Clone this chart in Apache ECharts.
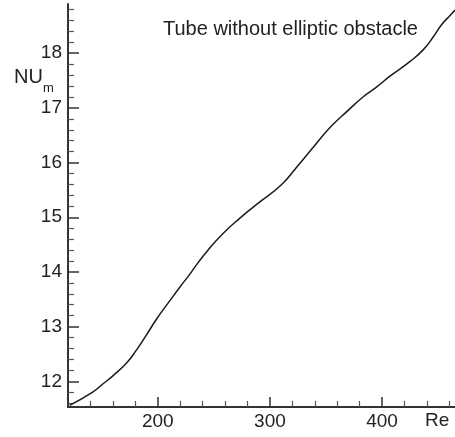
<!DOCTYPE html>
<html>
<head>
<meta charset="utf-8">
<script src="https://cdn.jsdelivr.net/npm/echarts@6/dist/echarts.min.js"></script>
<style>
  html, body { margin: 0; padding: 0; background: #fff; }
  #chart { width: 455px; height: 437px; }
</style>
</head>
<body>
<div id="chart"></div>
<script>
// Data
const reValues = [121.5, 142, 151, 160, 172, 181, 190, 199, 211, 220, 229, 236, 244, 258, 273, 291, 310, 324, 339, 354, 369, 383, 395, 407, 425, 437, 446, 453, 461, 465];
const nuValues = [11.56, 11.80, 11.95, 12.10, 12.33, 12.57, 12.85, 13.14, 13.48, 13.73, 13.97, 14.17, 14.38, 14.70, 14.98, 15.28, 15.59, 15.92, 16.29, 16.65, 16.94, 17.20, 17.38, 17.58, 17.85, 18.07, 18.31, 18.52, 18.70, 18.79];

const xMajorTicks = [200, 300, 400];
const xMinorTicks = [140, 160, 180, 220, 240, 260, 280, 320, 340, 360, 380, 420, 440, 460];
const yMajorTicks = [12, 13, 14, 15, 16, 17, 18];
const yMinorTicks = [11.6, 11.8, 12.2, 12.4, 12.6, 12.8, 13.2, 13.4, 13.6, 13.8, 14.2, 14.4, 14.6, 14.8, 15.2, 15.4, 15.6, 15.8, 16.2, 16.4, 16.6, 16.8, 17.2, 17.4, 17.6, 17.8, 18.2, 18.4, 18.6, 18.8];

const xRange = [120, 465];
const yRange = [11.53, 18.9];

const seriesData = reValues.map((r, i) => [r, nuValues[i]]);

const FONT = 'Liberation Sans, Arial, sans-serif';
const AX = '#333';

const chart = echarts.init(document.getElementById('chart'), null, { renderer: 'canvas' });
chart.setOption({
  animation: false,
  backgroundColor: '#fff',
  grid: { left: 68, right: 0, top: 4, bottom: 30, containLabel: false },
  xAxis: [
    {
      type: 'value', min: xRange[0], max: xRange[1], position: 'bottom',
      axisLine: { show: true, lineStyle: { color: AX, width: 2 } },
      axisTick: { show: true, inside: true, length: 10, lineStyle: { color: AX, width: 1.5 }, customValues: xMajorTicks },
      axisLabel: { show: true, margin: 5, fontSize: 19, color: '#222', fontFamily: FONT, customValues: xMajorTicks },
      splitLine: { show: false }
    },
    {
      type: 'value', min: xRange[0], max: xRange[1], position: 'bottom',
      axisLine: { show: false },
      axisTick: { show: true, inside: true, length: 6, lineStyle: { color: '#555', width: 1.2 }, customValues: xMinorTicks },
      axisLabel: { show: false },
      splitLine: { show: false }
    }
  ],
  yAxis: [
    {
      type: 'value', min: yRange[0], max: yRange[1], position: 'left',
      axisLine: { show: true, lineStyle: { color: AX, width: 2 } },
      axisTick: { show: true, inside: true, length: 11, lineStyle: { color: AX, width: 1.5 }, customValues: yMajorTicks },
      axisLabel: { show: true, margin: 6, fontSize: 19, color: '#222', fontFamily: FONT, customValues: yMajorTicks },
      splitLine: { show: false }
    },
    {
      type: 'value', min: yRange[0], max: yRange[1], position: 'left',
      axisLine: { show: false },
      axisTick: { show: true, inside: true, length: 6, lineStyle: { color: '#555', width: 1.2 }, customValues: yMinorTicks },
      axisLabel: { show: false },
      splitLine: { show: false }
    }
  ],
  series: [
    {
      type: 'line', xAxisIndex: 0, yAxisIndex: 0,
      data: seriesData, showSymbol: false, smooth: 0.5,
      lineStyle: { color: '#1a1a1a', width: 1.5 }
    }
  ],
  graphic: [
    { type: 'text', left: 163, top: 19, style: { text: 'Tube without elliptic obstacle', fontSize: 20, fill: '#222', fontFamily: FONT } },
    { type: 'text', left: 14, top: 67, style: { text: 'NU', fontSize: 20, fill: '#222', fontFamily: FONT } },
    { type: 'text', left: 43, top: 82, style: { text: 'm', fontSize: 13, fill: '#222', fontFamily: FONT } },
    { type: 'text', left: 425, top: 411, style: { text: 'Re', fontSize: 19, fill: '#222', fontFamily: FONT } }
  ]
});
</script>
</body>
</html>
